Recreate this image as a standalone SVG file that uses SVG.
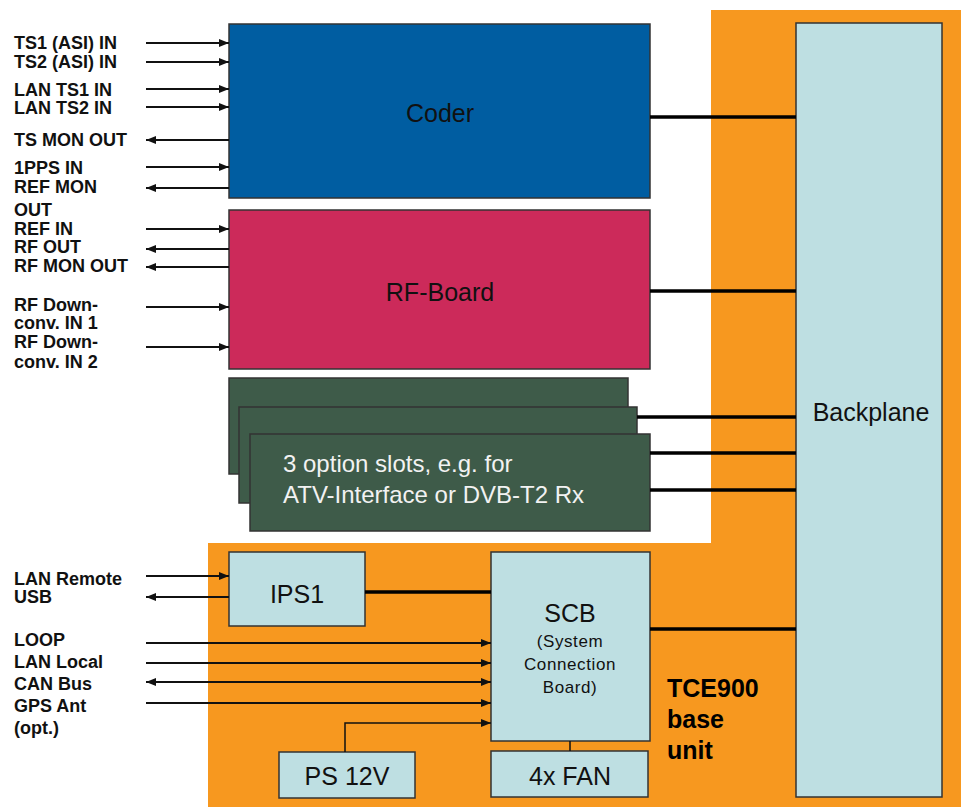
<svg xmlns="http://www.w3.org/2000/svg" width="961" height="807" viewBox="0 0 961 807">
<style>
.box{stroke:#333;stroke-width:1.5}
.lb{font-family:"Liberation Sans",Arial,sans-serif;font-weight:bold;font-size:18px;fill:#111}
.big{font-family:"Liberation Sans",Arial,sans-serif;font-size:25px;fill:#111;text-anchor:middle}
.sm{font-family:"Liberation Sans",Arial,sans-serif;font-size:17px;fill:#111;text-anchor:middle;letter-spacing:0.6px}
.sig{stroke:#111;stroke-width:2;fill:none}
.bus{stroke:#000;stroke-width:3.5;fill:none}
.thin{stroke:#111;stroke-width:1.5;fill:none}
</style>
<defs>
<marker id="ah" viewBox="0 0 10 8" refX="10" refY="4" markerWidth="10" markerHeight="8" markerUnits="userSpaceOnUse" orient="auto-start-reverse">
<path d="M0,0 L10,4 L0,8 z" fill="#111"/>
</marker>
</defs>
<rect width="961" height="807" fill="#fff"/>
<polygon id="base-area" points="711,10 961,10 961,807 208,807 208,543 711,543" fill="#F7981F"/>

<g id="coder"><rect class="box" x="229" y="24" width="421" height="174" fill="#005DA1"/><text class="big" x="440" y="122">Coder</text></g>
<g id="rf-board"><rect class="box" x="229" y="210" width="421" height="159" fill="#CC2A5A"/><text class="big" x="440" y="301">RF-Board</text></g>
<g id="option-slots">
<rect class="box" x="229" y="378" width="399" height="96" fill="#3E5B49"/>
<rect class="box" x="239" y="407" width="398" height="96" fill="#3E5B49"/>
<rect class="box" x="250" y="434" width="400" height="97" fill="#3E5B49"/>
<text x="283" y="472" font-family="Liberation Sans,Arial,sans-serif" font-size="24" fill="#F2F2F2">3 option slots, e.g. for</text>
<text x="283" y="503" font-family="Liberation Sans,Arial,sans-serif" font-size="24" fill="#F2F2F2">ATV-Interface or DVB-T2 Rx</text>
</g>
<g id="backplane"><rect class="box" x="796" y="23" width="146" height="774" fill="#BEDFE2"/><text class="big" x="871" y="421">Backplane</text></g>
<g id="ips1"><rect class="box" x="229" y="552" width="136" height="74" fill="#BEDFE2"/><text class="big" x="297" y="603">IPS1</text></g>
<g id="scb"><rect class="box" x="491" y="552" width="159" height="189" fill="#BEDFE2"/>
<text class="big" x="570" y="622">SCB</text>
<text class="sm" x="570" y="647">(System</text>
<text class="sm" x="570" y="670">Connection</text>
<text class="sm" x="570" y="693">Board)</text></g>
<g id="fan"><rect class="box" x="491" y="751" width="157" height="46" fill="#BEDFE2"/><text class="big" x="570" y="785">4x FAN</text></g>
<g id="ps12v"><rect class="box" x="279" y="752" width="136" height="46" fill="#BEDFE2"/><text class="big" x="347" y="785">PS 12V</text></g>
<g id="tce900-label">
<text x="667" y="697" font-family="Liberation Sans,Arial,sans-serif" font-weight="bold" font-size="25" fill="#000">TCE900</text>
<text x="667" y="728" font-family="Liberation Sans,Arial,sans-serif" font-weight="bold" font-size="25" fill="#000">base</text>
<text x="667" y="759" font-family="Liberation Sans,Arial,sans-serif" font-weight="bold" font-size="25" fill="#000">unit</text>
</g>

<g id="labels">
<text class="lb" x="14" y="49">TS1 (ASI) IN</text>
<text class="lb" x="14" y="68">TS2 (ASI) IN</text>
<text class="lb" x="14" y="96">LAN TS1 IN</text>
<text class="lb" x="14" y="114">LAN TS2 IN</text>
<text class="lb" x="14" y="146">TS MON OUT</text>
<text class="lb" x="14" y="174">1PPS IN</text>
<text class="lb" x="14" y="193">REF MON</text>
<text class="lb" x="14" y="216">OUT</text>
<text class="lb" x="14" y="235">REF IN</text>
<text class="lb" x="14" y="253">RF OUT</text>
<text class="lb" x="14" y="272">RF MON OUT</text>
<text class="lb" x="14" y="311">RF Down-</text>
<text class="lb" x="14" y="329">conv. IN 1</text>
<text class="lb" x="14" y="348">RF Down-</text>
<text class="lb" x="14" y="368">conv. IN 2</text>
<text class="lb" x="14" y="585">LAN Remote</text>
<text class="lb" x="14" y="603">USB</text>
<text class="lb" x="14" y="646">LOOP</text>
<text class="lb" x="14" y="668">LAN Local</text>
<text class="lb" x="14" y="690">CAN Bus</text>
<text class="lb" x="14" y="712">GPS Ant</text>
<text class="lb" x="14" y="734">(opt.)</text>
</g>

<g id="connectors">
<line class="sig" x1="146" y1="43" x2="229" y2="43" marker-end="url(#ah)"/>
<line class="sig" x1="146" y1="62" x2="229" y2="62" marker-end="url(#ah)"/>
<line class="sig" x1="146" y1="89" x2="229" y2="89" marker-end="url(#ah)"/>
<line class="sig" x1="146" y1="107" x2="229" y2="107" marker-end="url(#ah)"/>
<line class="sig" x1="229" y1="140" x2="146" y2="140" marker-end="url(#ah)"/>
<line class="sig" x1="146" y1="167" x2="229" y2="167" marker-end="url(#ah)"/>
<line class="sig" x1="229" y1="188" x2="146" y2="188" marker-end="url(#ah)"/>
<line class="sig" x1="146" y1="229" x2="229" y2="229" marker-end="url(#ah)"/>
<line class="sig" x1="229" y1="249" x2="146" y2="249" marker-end="url(#ah)"/>
<line class="sig" x1="229" y1="267" x2="146" y2="267" marker-end="url(#ah)"/>
<line class="sig" x1="146" y1="307" x2="229" y2="307" marker-end="url(#ah)"/>
<line class="sig" x1="146" y1="347" x2="229" y2="347" marker-end="url(#ah)"/>
<line class="sig" x1="146" y1="576" x2="229" y2="576" marker-end="url(#ah)"/>
<line class="sig" x1="229" y1="597" x2="146" y2="597" marker-end="url(#ah)"/>
<line class="sig" x1="146" y1="643" x2="491" y2="643" marker-end="url(#ah)"/>
<line class="sig" x1="146" y1="663" x2="491" y2="663" marker-end="url(#ah)"/>
<line class="sig" x1="146" y1="682" x2="491" y2="682" marker-start="url(#ah)" marker-end="url(#ah)"/>
<line class="sig" x1="146" y1="703" x2="491" y2="703" marker-end="url(#ah)"/>
<polyline class="thin" points="345,752 345,723 491,723" marker-end="url(#ah)"/>
<line class="thin" x1="570" y1="741" x2="570" y2="751"/>
<line class="bus" x1="650" y1="117" x2="796" y2="117"/>
<line class="bus" x1="650" y1="291" x2="796" y2="291"/>
<line class="bus" x1="637" y1="417" x2="796" y2="417"/>
<line class="bus" x1="650" y1="453" x2="796" y2="453"/>
<line class="bus" x1="650" y1="490" x2="796" y2="490"/>
<line class="bus" x1="365" y1="592" x2="491" y2="592"/>
<line class="bus" x1="650" y1="629" x2="796" y2="629"/>
</g>
</svg>
